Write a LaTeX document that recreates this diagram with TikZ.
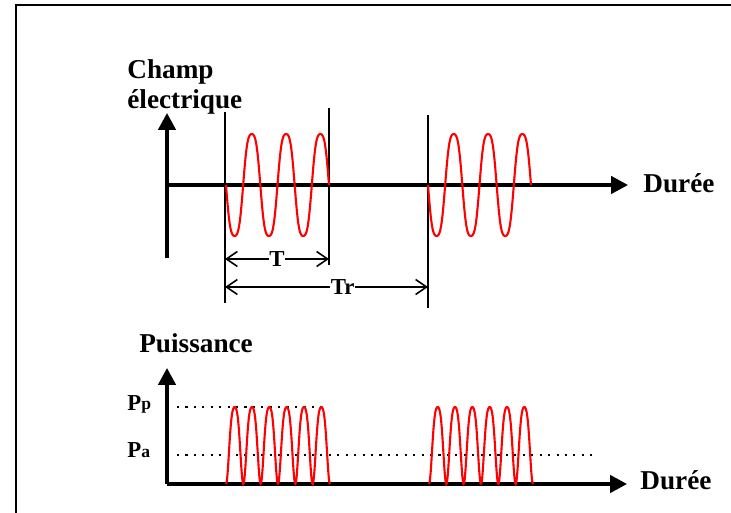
\documentclass[tikz,border=0pt]{standalone}
\usepackage{fontspec}
\setmainfont{Liberation Serif}
\usetikzlibrary{arrows.meta}

\begin{document}
\begin{tikzpicture}[x=0.02cm, y=-0.02cm,
	axis/.style={line width=1.8pt, -{Triangle[length=3.4mm,width=3.5mm]}},
	marker/.style={line width=0.6pt},
	dim/.style={line width=0.9pt, {Straight Barb[length=2.2mm,width=3mm]}-{Straight Barb[length=2.2mm,width=3mm]}},
	wave/.style={red, line width=1.2pt, smooth},
	level/.style={line width=1.2pt, dash pattern=on 1.2pt off 3.6pt},
	big/.style={font=\bfseries\fontsize{15.5}{17}\selectfont, inner sep=0pt, anchor=base west},
	small/.style={font=\bfseries\fontsize{13}{14}\selectfont, inner sep=0.5pt, fill=white}]
	\useasboundingbox (0,0) rectangle (731,513);

	% frame
	\draw[line width=1.1pt] (16,513) -- (16,5) -- (731,5);

	% top: field
	\coordinate (o1) at (167,185);
	\coordinate (y1top) at (167,113);
	\coordinate (y1bot) at (167,258);
	\coordinate (x1end) at (628,185);
	\draw[axis] (y1bot) -- (y1top);
	\draw[axis] (o1) -- (x1end);

	\node[big] (champ) at (127,79) {Champ};
	\node[big] (elec) at (127,109) {électrique};
	\node[big] (duree1) at (643,193) {Durée};

	\coordinate (m1t) at (225,112);
	\coordinate (m1b) at (225,303);
	\coordinate (m2t) at (329,108);
	\coordinate (m2b) at (329,265);
	\coordinate (m3t) at (428,115);
	\coordinate (m3b) at (428,308);
	\foreach \i in {1,2,3}
	{
		\draw[marker] (m\i t) -- (m\i b);
	};

	\foreach \s in {226,428}
	{
		\draw[wave] plot[domain=0:103, samples=160]
			({\s+\x}, {185+55.4*(sin(10.487*\x)+0.08*sin(31.46*\x))});
	};

	\coordinate (ta) at (225,259);
	\coordinate (tb) at (329,259);
	\coordinate (tra) at (225,287);
	\coordinate (trb) at (428,287);
	\draw[dim] (ta) -- node[small] (t) {T} (tb);
	\draw[dim] (tra) -- node[small, pos=0.58] (tr) {Tr} (trb);

	% bottom: power
	\coordinate (o2) at (167,484);
	\coordinate (y2top) at (167,368);
	\coordinate (x2end) at (627,484);
	\draw[axis] (o2) -- (y2top);
	\draw[axis] (o2) -- (x2end);

	\node[big] (puiss) at (139,353) {Puissance};
	\node[big] (duree2) at (640,490) {Durée};
	\node[inner sep=0pt, anchor=base west, font=\bfseries] (pp) at (127,411)
		{{\fontsize{13}{13}\selectfont P}\raisebox{0.8pt}{\fontsize{10}{10}\selectfont p}};
	\node[inner sep=0pt, anchor=base west, font=\bfseries] (pa) at (127,458)
		{{\fontsize{13}{13}\selectfont P}{\fontsize{10}{10}\selectfont a}};

	\coordinate (pp1) at (177,407);
	\coordinate (pp2) at (328,407);
	\coordinate (pa1) at (177,455);
	\coordinate (pa2) at (598,455);
	\draw[level] (pp1) -- (pp2);
	\draw[level] (pa1) -- (pa2);

	\foreach \s in {226,429}
	{
		\draw[wave] plot[domain=0:104, samples=200]
			({\s+\x}, {484-77*((sin(10.385*\x)+0.08*sin(31.155*\x))/0.92)^2});
	};
\end{tikzpicture}
\end{document}
